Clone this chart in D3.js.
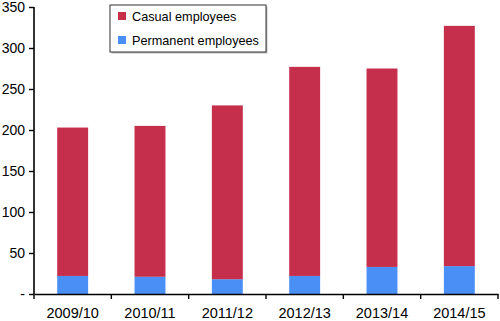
<!DOCTYPE html>
<html>
<head>
<meta charset="utf-8">
<script src="https://cdn.jsdelivr.net/npm/d3@7"></script>
<style>
  body { margin: 0; background: #fff; }
  text { font-family: "Liberation Sans", Arial, sans-serif; }
</style>
</head>
<body>
<div id="chart"></div>
<script>
const years = ["2009/10", "2010/11", "2011/12", "2012/13", "2013/14", "2014/15"];
const permanent = [22, 21, 18, 22, 33, 34];
const casual = [181, 184, 212, 255, 242, 293];
const yTicks = [0, 50, 100, 150, 200, 250, 300, 350];
const seriesNames = ["Casual employees", "Permanent employees"];

const width = 500, height = 321;
const margin = { top: 7, right: 2, bottom: 27, left: 34 };
const innerWidth = width - margin.left - margin.right;
const innerHeight = height - margin.top - margin.bottom;

const colors = { "Permanent employees": "#4a8ff6", "Casual employees": "#c52f4c" };

const svg = d3.select("#chart").append("svg")
  .attr("width", width)
  .attr("height", height);

const g = svg.append("g")
  .attr("transform", `translate(${margin.left},${margin.top})`);

const data = years.map((y, i) => ({ year: y, "Permanent employees": permanent[i], "Casual employees": casual[i] }));
const series = d3.stack().keys(["Permanent employees", "Casual employees"])(data);

const xScale = d3.scaleBand()
  .domain(years)
  .range([0, innerWidth])
  .paddingInner(0.6)
  .paddingOuter(0.3);

const yScale = d3.scaleLinear()
  .domain([0, 350])
  .range([innerHeight, 0]);

// Bars
g.selectAll(".serie")
  .data(series)
  .enter().append("g")
    .attr("fill", d => colors[d.key])
  .selectAll("rect")
  .data(d => d)
  .enter().append("rect")
    .attr("x", d => xScale(d.data.year))
    .attr("y", d => yScale(d[1]))
    .attr("width", xScale.bandwidth())
    .attr("height", d => yScale(d[0]) - yScale(d[1]));

// Y axis
const yAxisG = g.append("g")
  .call(d3.axisLeft(yScale).tickValues(yTicks).tickSize(5).tickSizeOuter(0)
    .tickFormat(d => d === 0 ? "-" : d));
yAxisG.select(".domain").attr("stroke-width", 1.6).attr("d", `M0,${innerHeight}V0`);
yAxisG.selectAll(".tick line").attr("stroke-width", 1.4);
yAxisG.selectAll("text")
  .attr("font-size", 14)
  .attr("fill", "#000")
  .attr("x", -9);

// X axis, ticks at band boundaries
const xAxisG = g.append("g")
  .attr("transform", `translate(0,${innerHeight})`)
  .call(d3.axisBottom(xScale).tickSize(0).tickSizeOuter(0));
xAxisG.select(".domain").attr("stroke-width", 1.6);
xAxisG.selectAll("text")
  .attr("font-size", 14.5)
  .attr("fill", "#000")
  .attr("dy", "0")
  .attr("y", 23.5);

const step = xScale.step();
xAxisG.selectAll(".bound")
  .data(d3.range(years.length + 1))
  .enter().append("line")
    .attr("x1", i => i * step)
    .attr("x2", i => i * step)
    .attr("y1", 0)
    .attr("y2", 5)
    .attr("stroke", "#000")
    .attr("stroke-width", 1.4);

// Legend
const legend = svg.append("g").attr("transform", "translate(110,5)");
legend.append("rect")
  .attr("x", 1.5).attr("y", 1.5)
  .attr("width", 156).attr("height", 47)
  .attr("fill", "#bbb");
legend.append("rect")
  .attr("x", 0).attr("y", 0)
  .attr("width", 156).attr("height", 47)
  .attr("fill", "#fff")
  .attr("stroke", "#333")
  .attr("stroke-width", 1);

seriesNames.forEach((name, i) => {
  const item = legend.append("g").attr("transform", `translate(8, ${7 + i * 24})`);
  item.append("rect")
    .attr("width", 8).attr("height", 8)
    .attr("fill", colors[name]);
  item.append("text")
    .attr("x", 14)
    .attr("y", 8.5)
    .attr("font-size", 12.7)
    .text(name);
});
</script>
</body>
</html>
